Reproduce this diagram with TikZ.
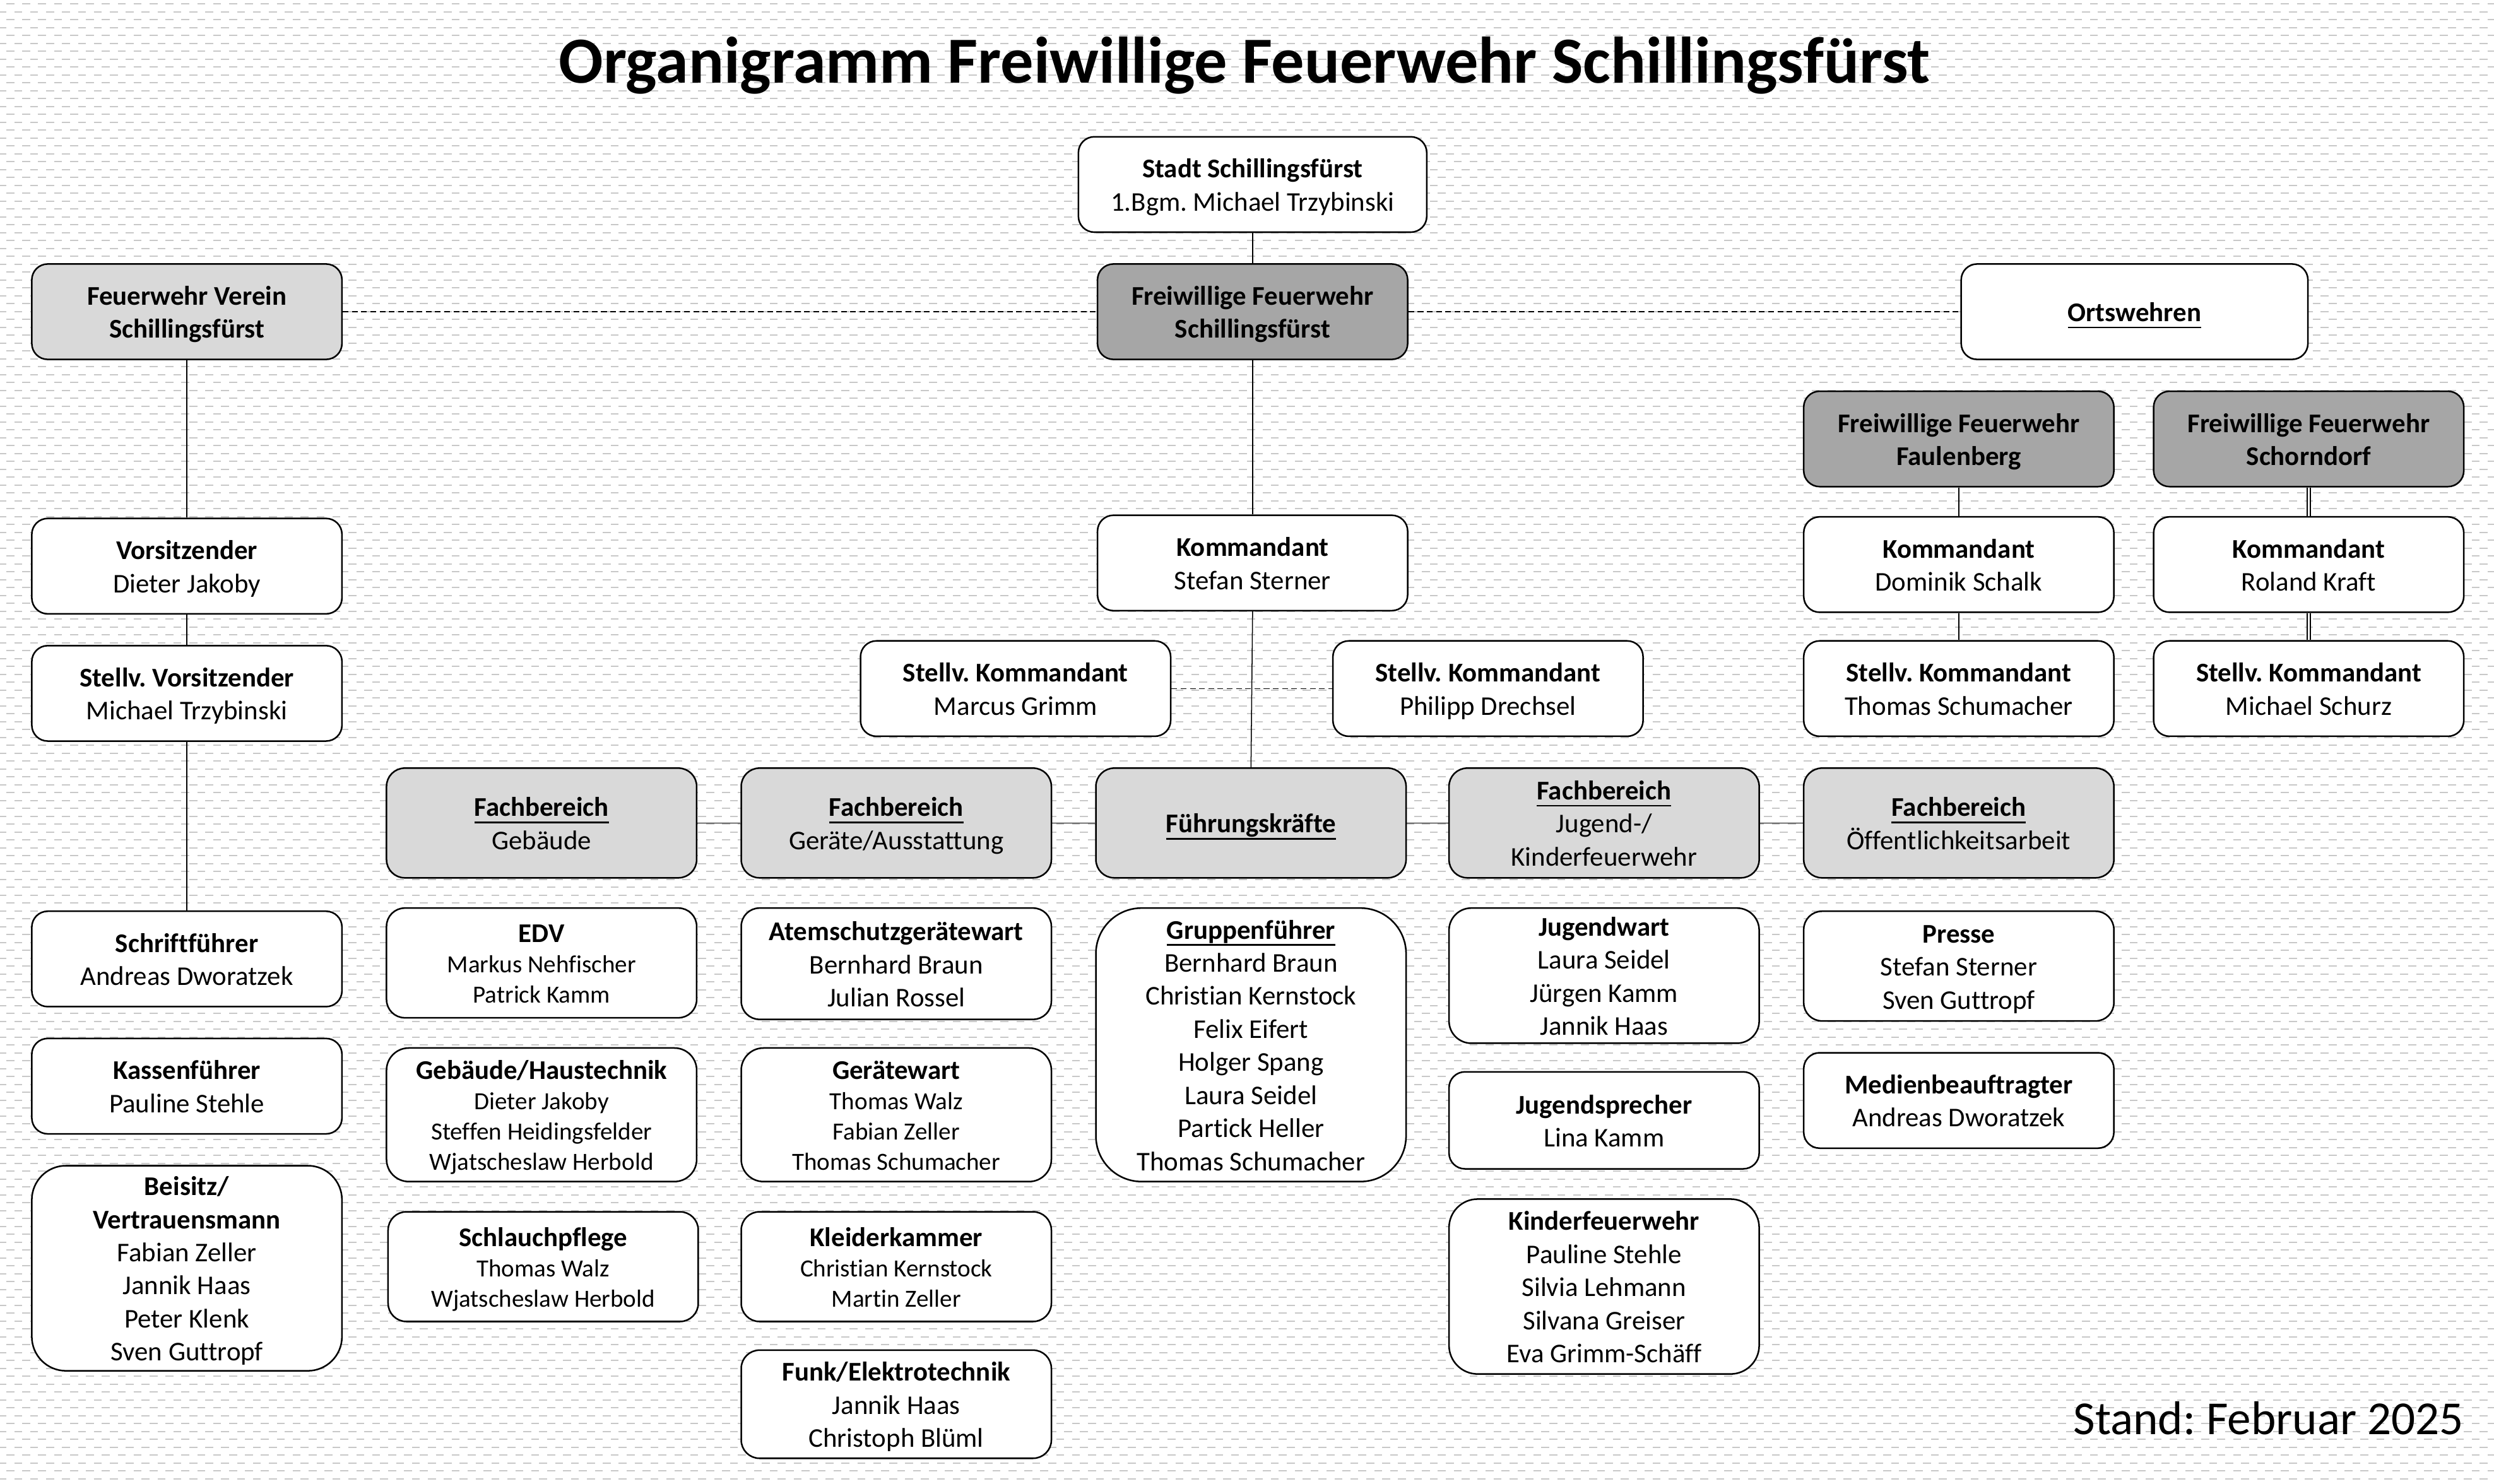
\documentclass[tikz,border=0pt]{standalone}
\usepackage{fontspec}
\setmainfont{Carlito}[Ligatures={NoCommon}]
\frenchspacing
\newsavebox\ulbox
\newcommand{\ulx}[1]{\sbox\ulbox{#1}\rlap{\rule[-4.3pt]{\wd\ulbox}{1pt}}\usebox\ulbox}
\newcommand{\hd}[1]{{\fontsize{17}{19}\selectfont\bfseries #1}}
\newcommand{\topst}{\rule{0pt}{17pt}}
\newcommand{\botst}{\rule[-4.6pt]{0pt}{4.6pt}}
% box node: options, name, position, text
\newcommand{\bx}[4]{\node[box,#1] (#2) at (#3) {\topst#4\botst};}
\definecolor{darkfill}{RGB}{166,166,166}
\definecolor{lightfill}{RGB}{217,217,217}
\definecolor{bgc}{RGB}{200,200,200}
\begin{document}
\begin{tikzpicture}[x=1pt,y=-1pt,
  box/.style={draw=black, line width=1pt, fill=white, align=center, inner sep=0pt,
    minimum width=195pt, minimum height=60pt, rounded corners=10pt,
    font=\fontsize{17}{20.8}\selectfont},
  dark/.style={fill=darkfill},
  light/.style={fill=lightfill},
  small/.style={font=\fontsize{15.5}{19}\selectfont},
  conn/.style={line width=0.6pt},
  dconn/.style={line width=0.6pt, dash pattern=on 3.6pt off 2.2pt},
  dbl/.style={double, double distance=1.4pt, line width=0.6pt},
  bgdash/.style={line width=0.8pt, draw=bgc, dash pattern=on 5pt off 5pt}]
\useasboundingbox (0,0) rectangle (1568,932.8);
\fill[white] (0,0) rectangle (1568,932.8);
% background pattern
\foreach \i in {0,...,188}{
  \pgfmathsetmacro\ph{mod(\i,2)==0 ? 6 : 1}
  \draw[bgdash, dash phase=\ph pt] (0,{2.4+4.96*\i}) -- (1568,{2.4+4.96*\i});
}
% title
\node[anchor=base, font=\fontsize{41.4}{48}\selectfont\bfseries, inner sep=0pt] (title) at (782.5,52) {Organigramm Freiwillige Feuerwehr Schillingsfürst};
% top level
\bx{minimum width=219pt}{stadt}{787.5,116}{\textbf{Stadt Schillingsfürst}\\1.Bgm. Michael Trzybinski}
\bx{dark}{ffs}{787.5,196}{\textbf{Freiwillige Feuerwehr}\\\textbf{Schillingsfürst}}
\bx{light}{verein}{117.5,196}{\textbf{Feuerwehr Verein}\\\textbf{Schillingsfürst}}
\bx{minimum width=218pt}{orts}{1342,196}{\textbf{\ulx{Ortswehren}}}
\bx{dark}{faul}{1231.5,276}{\textbf{Freiwillige Feuerwehr}\\\textbf{Faulenberg}}
\bx{dark}{schorn}{1451.5,276}{\textbf{Freiwillige Feuerwehr}\\\textbf{Schorndorf}}
% second level
\bx{}{vors}{117.5,356}{\textbf{Vorsitzender}\\Dieter Jakoby}
\bx{}{kommss}{787.5,354}{\textbf{Kommandant}\\Stefan Sterner}
\bx{}{kommf}{1231.5,355}{\textbf{Kommandant}\\Dominik Schalk}
\bx{}{komms}{1451.5,355}{\textbf{Kommandant}\\Roland Kraft}
\bx{}{svors}{117.5,436}{\textbf{Stellv. Vorsitzender}\\Michael Trzybinski}
\bx{}{smg}{638.5,433}{\textbf{Stellv. Kommandant}\\Marcus Grimm}
\bx{}{spd}{935.5,433}{\textbf{Stellv. Kommandant}\\Philipp Drechsel}
\bx{}{sts}{1231.5,433}{\textbf{Stellv. Kommandant}\\Thomas Schumacher}
\bx{}{sms}{1451.5,433}{\textbf{Stellv. Kommandant}\\Michael Schurz}
% Fachbereiche
\bx{light, minimum height=69pt, rounded corners=11.5pt}{fbgeb}{340.5,517.5}{\textbf{\ulx{Fachbereich}}\\Gebäude}
\bx{light, minimum height=69pt, rounded corners=11.5pt}{fbger}{563.5,517.5}{\textbf{\ulx{Fachbereich}}\\Geräte/Ausstattung}
\bx{light, minimum height=69pt, rounded corners=11.5pt}{fbfk}{786.5,517.5}{\textbf{\ulx{Führungskräfte}}}
\bx{light, minimum height=69pt, rounded corners=11.5pt}{fbjug}{1008.5,517.5}{\textbf{\ulx{Fachbereich}}\\Jugend-/\\Kinderfeuerwehr}
\bx{light, minimum height=69pt, rounded corners=11.5pt}{fboef}{1231.5,517.5}{\textbf{\ulx{Fachbereich}}\\Öffentlichkeitsarbeit}
% Verein column
\bx{}{schrift}{117.5,603}{\textbf{Schriftführer}\\Andreas Dworatzek}
\bx{}{kassen}{117.5,683}{\textbf{Kassenführer}\\Pauline Stehle}
\bx{minimum height=129pt, rounded corners=21.5pt}{beisitz}{117.5,797.5}{\textbf{Beisitz/}\\\textbf{Vertrauensmann}\\Fabian Zeller\\Jannik Haas\\Peter Klenk\\Sven Guttropf}
% Gebaeude column
\bx{small, minimum height=69pt, rounded corners=11.5pt}{edv}{340.5,605.5}{\hd{EDV}\\Markus Nehfischer\\Patrick Kamm}
\bx{small, minimum height=84pt, rounded corners=14pt}{haus}{340.5,701}{\hd{Gebäude/Haustechnik}\\Dieter Jakoby\\Steffen Heidingsfelder\\Wjatscheslaw Herbold}
\bx{small, minimum height=69pt, rounded corners=11.5pt}{schlauch}{341.5,796.5}{\hd{Schlauchpflege}\\Thomas Walz\\Wjatscheslaw Herbold}
% Geraete column
\bx{minimum height=70pt, rounded corners=11.5pt}{atem}{563.5,606}{\textbf{Atemschutzgerätewart}\\Bernhard Braun\\Julian Rossel}
\bx{small, minimum height=84pt, rounded corners=14pt}{gwart}{563.5,701}{\hd{Gerätewart}\\Thomas Walz\\Fabian Zeller\\Thomas Schumacher}
\bx{small, minimum height=69pt, rounded corners=11.5pt}{kleider}{563.5,796.5}{\hd{Kleiderkammer}\\Christian Kernstock\\Martin Zeller}
\bx{minimum height=68pt, rounded corners=11.5pt}{funk}{563.5,883}{\textbf{Funk/Elektrotechnik}\\Jannik Haas\\Christoph Blüml}
% Fuehrungskraefte column
\bx{minimum height=172pt, rounded corners=28.7pt}{gruppen}{786.5,657}{\textbf{\ulx{Gruppenführer}}\\Bernhard Braun\\Christian Kernstock\\Felix Eifert\\Holger Spang\\Laura Seidel\\Partick Heller\\Thomas Schumacher}
% Jugend column
\bx{minimum height=85pt, rounded corners=14pt}{jwart}{1008.5,613.5}{\textbf{Jugendwart}\\Laura Seidel\\Jürgen Kamm\\Jannik Haas}
\bx{minimum height=61pt}{jspr}{1008.5,704.5}{\textbf{Jugendsprecher}\\Lina Kamm}
\bx{minimum height=110pt, rounded corners=18pt}{kinder}{1008.5,809}{\textbf{Kinderfeuerwehr}\\Pauline Stehle\\Silvia Lehmann\\Silvana Greiser\\Eva Grimm-Schäff}
% Oeffentlichkeit column
\bx{minimum height=69pt, rounded corners=11.5pt}{presse}{1231.5,607.5}{\textbf{Presse}\\Stefan Sterner\\Sven Guttropf}
\bx{}{medien}{1231.5,692}{\textbf{Medienbeauftragter}\\Andreas Dworatzek}
% footer
\node[anchor=base east, font=\fontsize{29.8}{35}\selectfont, inner sep=0pt] (stand) at (1549,902) {Stand: Februar 2025};
% connectors
\draw[conn] (stadt.south) -- (ffs.north);
\draw[conn] (ffs.south) -- (kommss.north);
\draw[conn] (kommss.south) -- (fbfk.north);
\draw[dconn] (verein.east) -- (ffs.west);
\draw[dconn] (ffs.east) -- (orts.west);
\draw[dconn] (smg.east) -- (spd.west);
\draw[conn] (fbgeb.east) -- (fbger.west);
\draw[conn] (fbger.east) -- (fbfk.west);
\draw[conn] (fbfk.east) -- (fbjug.west);
\draw[conn] (fbjug.east) -- (fboef.west);
\draw[conn] (verein.south) -- (vors.north);
\draw[conn] (vors.south) -- (svors.north);
\draw[conn] (svors.south) -- (schrift.north);
\draw[conn] (faul.south) -- (kommf.north);
\draw[conn] (kommf.south) -- (sts.north);
\draw[dbl] (schorn.south) -- (komms.north);
\draw[dbl] (komms.south) -- (sms.north);
\end{tikzpicture}
\end{document}
